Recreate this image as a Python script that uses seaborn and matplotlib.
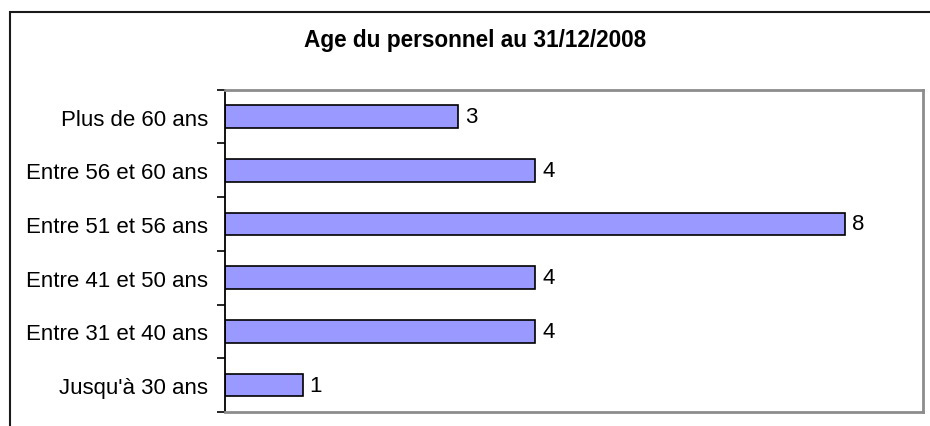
import matplotlib
matplotlib.use("Agg")
import matplotlib.pyplot as plt
import seaborn as sns
import pandas as pd
import numpy as np
from matplotlib.patches import Rectangle

categories = ["Plus de 60 ans", "Entre 56 et 60 ans", "Entre 51 et 56 ans",
              "Entre 41 et 50 ans", "Entre 31 et 40 ans", "Jusqu'à 30 ans"]
values = [3, 4, 8, 4, 4, 1]
title = "Age du personnel au 31/12/2008"

df = pd.DataFrame({"cat": categories, "val": values})

sns.set_theme(style="white")
plt.rcParams["font.family"] = ["Liberation Sans", "DejaVu Sans"]

fig = plt.figure(figsize=(9.3, 4.27), dpi=100)
ax = fig.add_axes([225/930, 1-413/427, (923-225)/930, (413-90.7)/427])

sns.barplot(data=df, x="val", y="cat", order=categories, orient="h",
            color="#9999FF", edgecolor="black", linewidth=1.2, width=0.42,
            saturation=1, ax=ax)
for p in ax.patches:
    p.set_facecolor("#9999FF")

ax.bar_label(ax.containers[0], labels=[str(v) for v in values], padding=5,
             fontsize=16, color="black")

ax.set_xlim(0, 9)
n = len(categories)
ax.set_ylim(n - 0.5, -0.5)
ax.set_xlabel("")
ax.set_ylabel("")
ax.set_xticks([])

ax.set_yticks(np.arange(n), labels=categories, minor=False)
ax.tick_params(axis="y", which="major", length=0, pad=12, labelsize=16, labelcolor="black")
ax.set_yticks(np.arange(-0.5, n, 1.0), minor=True)
ax.tick_params(axis="y", which="minor", length=6, width=1.2, color="black", left=True)

ax.spines["left"].set_color("black")
ax.spines["left"].set_linewidth(1.3)
for s in ["top", "right", "bottom"]:
    ax.spines[s].set_color("#8c8c8c")
    ax.spines[s].set_linewidth(2)
    ax.spines[s].set_visible(True)

fig.text(475/930, 1-41/427, title, ha="center", va="center",
         fontsize=16.3, fontweight="bold", color="black")

fig.patches.append(Rectangle((10/930, -0.1), 1.2, 1 - 13/427 + 0.1,
                             transform=fig.transFigure, fill=False,
                             edgecolor="#1a1a1a", linewidth=1.5, zorder=0))

fig.savefig("out.png", dpi=100, facecolor="white")
